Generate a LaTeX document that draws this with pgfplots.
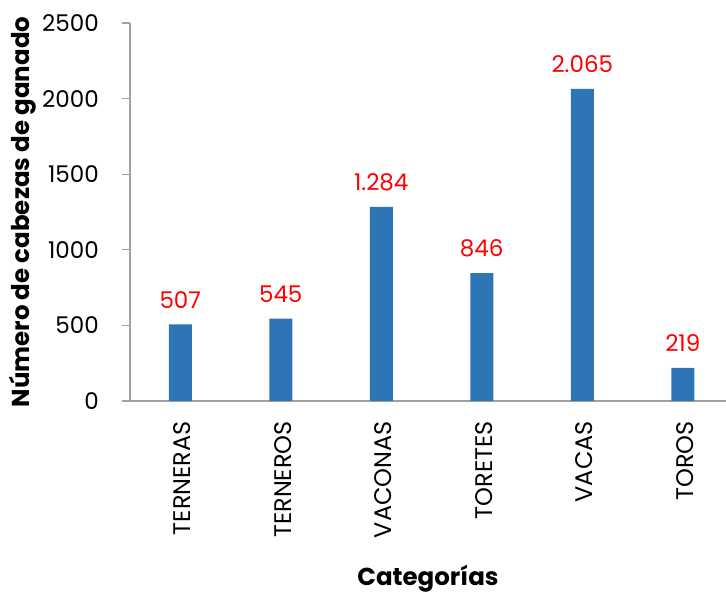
\documentclass[border=0pt]{standalone}
\usepackage{fontspec}
\setmainfont{Poppins}
\usepackage{pgfplots}
\pgfplotsset{compat=1.18}
\definecolor{barblue}{RGB}{46,117,182}
\definecolor{axisgray}{RGB}{160,160,160}

\begin{document}
\begin{tikzpicture}
\path[use as bounding box] (-130pt,-193pt) rectangle (596pt,401pt);
\begin{axis}[
    at={(0pt,0pt)}, anchor=south west,
    scale only axis,
    width=596pt, height=378pt,
    ybar, bar width=23pt,
    xmin=-0.5, xmax=5.43,
    ymin=0, ymax=2500,
    ytick={0,500,1000,1500,2000,2500},
    xtick=data,
    xticklabels={TERNERAS,TERNEROS,VACONAS,TORETES,VACAS,TOROS},
    axis x line=bottom, axis y line=left,
    axis line style={draw=axisgray, line width=1.2pt, -},
    x axis line style={shorten <=-8pt},
    tick align=outside,
    major tick length=8pt,
    ytick style={draw=axisgray, line width=1.2pt},
    xtick style={draw=none},
    /pgf/number format/assume math mode=true,
    ticklabel style={font=\fontsize{23}{26}\selectfont, text=black},
    yticklabel style={/pgf/number format/1000 sep={}, inner sep=0pt, xshift=-23pt},
    xticklabel style={rotate=90, anchor=east, inner sep=0pt, xshift=-12pt, yshift=-2pt,
        font=\fontsize{24}{27}\selectfont},
    xlabel={\textbf{Categorías}},
    ylabel={\textbf{Número de cabezas de ganado}},
    label style={font=\fontsize{24.5}{28}\selectfont},
    xlabel style={at={(axis description cs:0.5,-0.489)}, anchor=base},
    ylabel style={at={(axis description cs:-0.18,0.5)}, anchor=center},
    nodes near coords,
    every node near coord/.append style={font=\fontsize{23}{26}\selectfont, text=red,
        /pgf/number format/1000 sep={.}, anchor=south, inner sep=0pt, yshift=16pt},
    clip=false,
]
\addplot[fill=barblue, draw=none] coordinates {
    (0,507) (1,545) (2,1284) (3,846) (4,2065) (5,219)
};
\end{axis}
\end{tikzpicture}
\end{document}
